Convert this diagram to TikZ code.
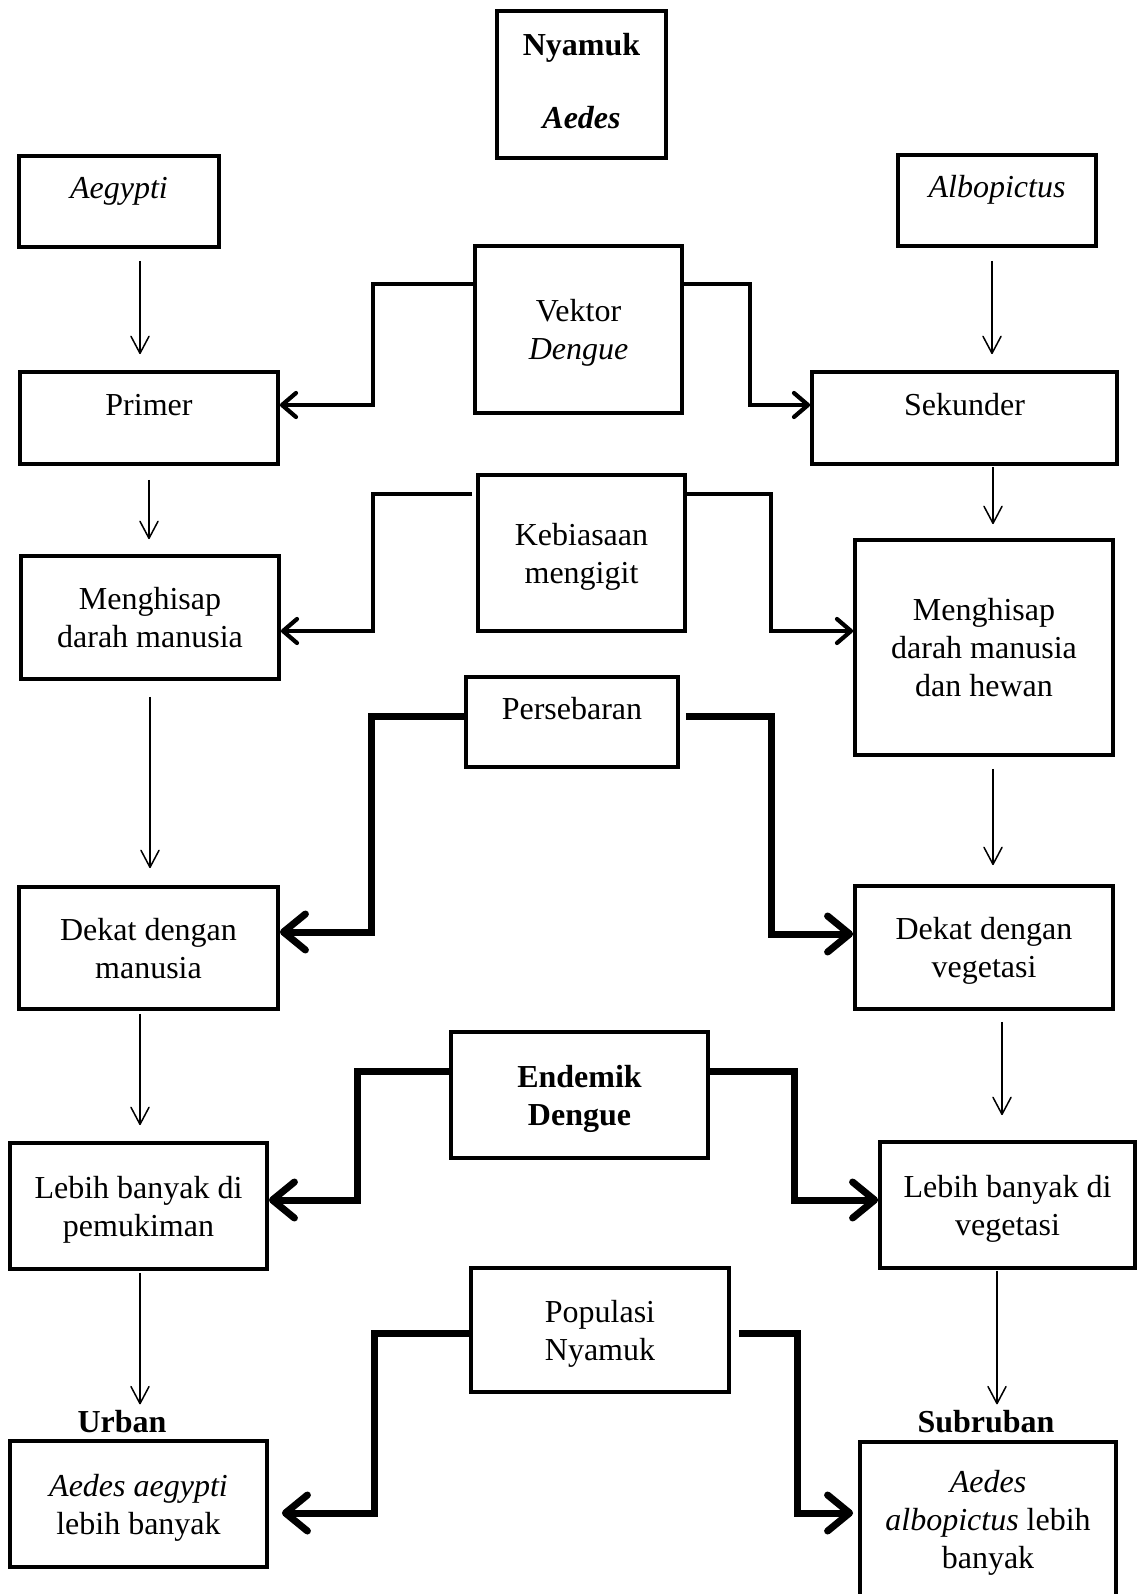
\documentclass[tikz,border=0pt]{standalone}
\usepackage{fontspec}
\setmainfont{Liberation Serif}
\usetikzlibrary{arrows.meta}

\begin{document}
\begin{tikzpicture}[x=0.5pt,y=-0.5pt,
  box/.style={draw,line width=1.9pt,align=center,inner sep=2pt,text depth=0pt,font=\fontsize{16pt}{19pt}\selectfont},
  upper/.style={text height=11pt,text depth=14pt},
  tag/.style={inner sep=0pt,font=\fontsize{16pt}{19pt}\selectfont\bfseries},
  flow/.style={-{Straight Barb[round,length=8.5pt,width=9pt]},line width=0.75pt},
  link/.style={-{Straight Barb[round,length=7pt,width=12pt]},line width=2.1pt},
  heavy/.style={-{Straight Barb[round,length=11pt,width=18pt]},line width=3.5pt}]
  \useasboundingbox (0,0) rectangle (1137,1594);
  \node[box,text depth=4pt,minimum width=84.5pt,minimum height=73.5pt] (nyamuk) at (581.5,84.5) {\textbf{Nyamuk}\\[17.5pt]\textbf{\textit{Aedes}}};
  \node[box,upper,minimum width=100pt,minimum height=45.5pt] (aegypti) at (119,201.5) {\textit{Aegypti}};
  \node[box,upper,minimum width=99pt,minimum height=45.5pt] (albopictus) at (997,200.5) {\textit{Albopictus}};
  \node[box,minimum width=103.5pt,minimum height=83.5pt] (vektor) at (578.5,329.5) {Vektor\\\textit{Dengue}};
  \node[box,upper,minimum width=129pt,minimum height=46pt] (primer) at (149,418) {Primer};
  \node[box,upper,minimum width=152.5pt,minimum height=46pt] (sekunder) at (964.5,418) {Sekunder};
  \node[box,minimum width=103.5pt,minimum height=78pt] (kebiasaan) at (581.5,553) {Kebiasaan\\mengigit};
  \node[box,minimum width=129pt,minimum height=61.5pt] (hisapA) at (150,617.5) {Menghisap\\darah manusia};
  \node[box,minimum width=129pt,minimum height=107.5pt] (hisapB) at (984,647.5) {Menghisap\\darah manusia\\dan hewan};
  \node[box,upper,minimum width=106pt,minimum height=45pt] (persebaran) at (572,722) {Persebaran};
  \node[box,minimum width=129.5pt,minimum height=61pt] (dekatA) at (148.5,948) {Dekat dengan\\manusia};
  \node[box,minimum width=129pt,minimum height=61.5pt] (dekatB) at (984,947.5) {Dekat dengan\\vegetasi};
  \node[box,minimum width=128.5pt,minimum height=63pt] (endemik) at (579.5,1095) {\textbf{Endemik}\\\textbf{Dengue}};
  \node[box,minimum width=128.5pt,minimum height=63pt] (lebihA) at (138.5,1206) {Lebih banyak di\\pemukiman};
  \node[box,minimum width=127.5pt,minimum height=63pt] (lebihB) at (1007.5,1205) {Lebih banyak di\\vegetasi};
  \node[box,minimum width=129pt,minimum height=62pt] (populasi) at (600,1330) {Populasi\\Nyamuk};
  \node[tag] (urban) at (122,1422) {Urban};
  \node[tag] (subruban) at (986,1422) {Subruban};
  \node[box,minimum width=128.5pt,minimum height=63pt] (hasilA) at (138.5,1504) {\textit{Aedes aegypti}\\lebih banyak};
  \node[box,minimum width=128pt,minimum height=77pt] (hasilB) at (988,1519) {\textit{Aedes}\\\textit{albopictus} lebih\\banyak};
  \draw[flow,shorten <=6pt,shorten >=8pt] ([xshift=10.5pt]aegypti.south) -- ([xshift=10.5pt]aegypti.south |- primer.north);
  \draw[flow,shorten <=6.5pt,shorten >=8pt] ([xshift=-2.5pt]albopictus.south) -- ([xshift=-2.5pt]albopictus.south |- sekunder.north);
  \draw[flow,shorten <=7pt,shorten >=7.5pt] (primer.south) -- (primer.south |- hisapA.north);
  \draw[flow,shorten <=0.5pt,shorten >=7pt] ([xshift=14.25pt]sekunder.south) -- ([xshift=14.25pt]sekunder.south |- hisapB.north);
  \draw[flow,shorten <=8pt,shorten >=8.5pt] (hisapA.south) -- (hisapA.south |- dekatA.north);
  \draw[flow,shorten <=6pt,shorten >=9.5pt] ([xshift=4.5pt]hisapB.south) -- ([xshift=4.5pt]hisapB.south |- dekatB.north);
  \draw[flow,shorten <=1.5pt,shorten >=8pt] ([xshift=-4.25pt]dekatA.south) -- ([xshift=-4.25pt]dekatA.south |- lebihA.north);
  \draw[flow,shorten <=5.5pt,shorten >=12.5pt] ([xshift=9pt]dekatB.south) -- ([xshift=9pt]dekatB.south |- lebihB.north);
  \draw[flow,shorten <=1pt,shorten >=3pt] ([xshift=0.75pt]lebihA.south) -- ([xshift=0.75pt]lebihA.south |- urban.north);
  \draw[flow,shorten <=0.5pt,shorten >=3pt] ([xshift=-5.25pt]lebihB.south) -- ([xshift=-5.25pt]lebihB.south |- subruban.north);
  \draw[link] ([yshift=-20pt]vektor.north west) -- ++(-100,0) |- ([yshift=6.5pt]primer.east);
  \draw[link] ([yshift=-20pt]vektor.north east) -- ++(66,0) |- ([yshift=6.5pt]sekunder.west);
  \draw[link,shorten <=2pt] ([yshift=-10.5pt]kebiasaan.north west) -- ++(-103,0) |- ([yshift=-6.75pt]hisapA.east);
  \draw[link] ([yshift=-10.5pt]kebiasaan.north east) -- ++(84,0) |- ([yshift=8.25pt]hisapB.west);
  \draw[heavy] ([yshift=-20.5pt]persebaran.north west) -- ++(-93,0) |- ([yshift=8pt]dekatA.east);
  \draw[heavy,shorten <=3pt] ([yshift=-20.5pt]persebaran.north east) -- ++(92,0) |- ([yshift=6.75pt]dekatB.west);
  \draw[heavy] ([yshift=-20.5pt]endemik.north west) -- ++(-92,0) |- ([yshift=3pt]lebihA.east);
  \draw[heavy] ([yshift=-20.5pt]endemik.north east) -- ++(85,0) |- ([yshift=2.5pt]lebihB.west);
  \draw[heavy,shorten >=6.5pt] ([yshift=-33.5pt]populasi.north west) -- ++(-95,0) |- ([yshift=-4.5pt]hasilA.east);
  \draw[heavy,shorten <=4pt,shorten >=2.5pt] ([yshift=-33.5pt]populasi.north east) -- ++(67,0) |- ([yshift=3pt]hasilB.west);
\end{tikzpicture}
\end{document}
